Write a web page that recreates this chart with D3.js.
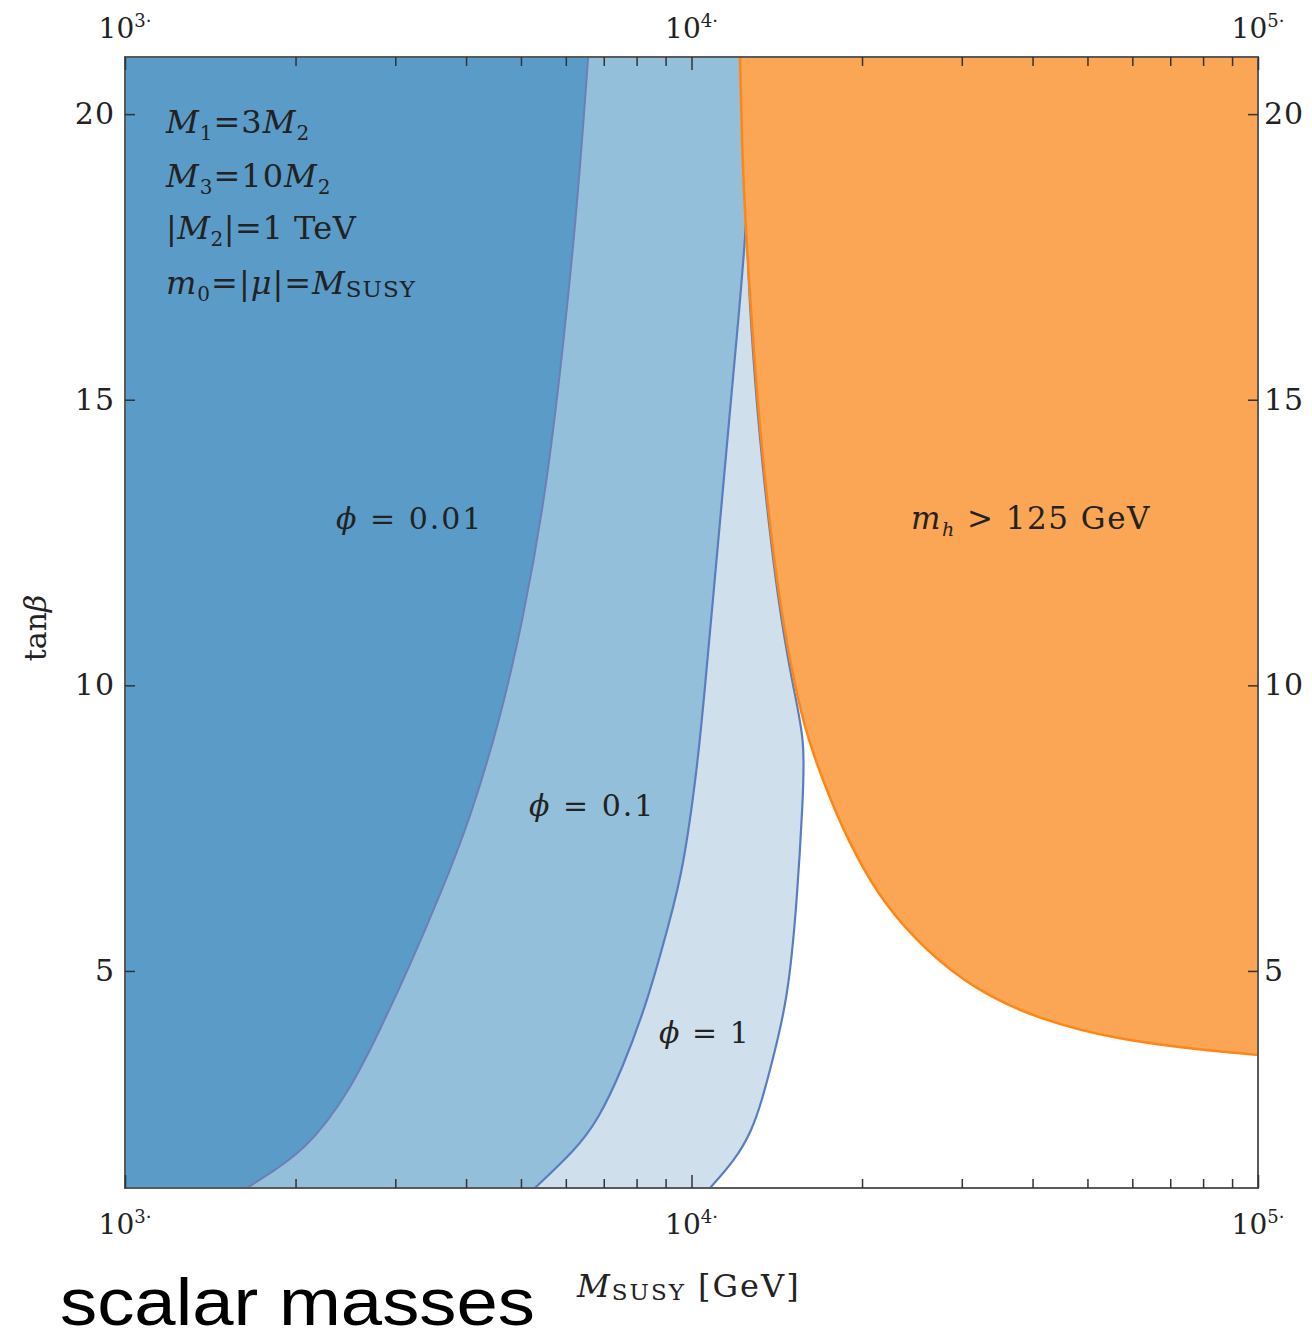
<!DOCTYPE html>
<html>
<head>
<meta charset="utf-8">
<script src="https://cdn.jsdelivr.net/npm/d3@7/dist/d3.min.js"></script>
<style>
  body { margin: 0; background: #fff; }
  svg { display: block; }
  .serif { font-family: "DejaVu Serif", "Liberation Serif", serif; fill: #222; }
</style>
</head>
<body>
<div id="graph"></div>
<script>
'use strict';

// curves: [tanBeta, M_SUSY in GeV]
const phi001 = [[1.2, 1640], [1.86, 2100], [2.92, 2500], [3.97, 2820], [5.1, 3185],
  [6.33, 3600], [7.64, 4060], [9.39, 4590], [11.14, 5040], [13.24, 5510],
  [15.87, 5930], [18.5, 6300], [21, 6570]];

const phi01 = [[1.2, 5290], [1.86, 6230], [2.39, 6840], [3.27, 7540], [4.49, 8380],
  [5.89, 9160], [6.77, 9660], [8.52, 10230], [9.95, 10560], [11.5, 10910],
  [13.25, 11320], [15, 11740], [16.4, 12100], [17.85, 12450], [19.37, 12700], [21, 12900]];

const phi1 = [[1.2, 10780], [1.69, 11940], [2.21, 12790], [2.74, 13320], [3.27, 13760],
  [4.49, 14800], [6.24, 15360], [8, 15730], [9.04, 15860], [9.95, 15110],
  [11.5, 14200], [13.25, 13540], [15, 12990], [17.85, 12450], [19.37, 12600], [21, 12700]];

const higgs125 = [[21, 12180], [19.37, 12280], [17.85, 12480], [15, 13050], [13.25, 13590],
  [11.5, 14270], [9.95, 15230], [9.04, 16060], [8, 17560], [7.03, 19440],
  [6.15, 21960], [5.37, 25840], [4.67, 31650], [4.14, 41220], [3.79, 57080],
  [3.62, 79000], [3.53, 100000]];

const xMajor = [1e3, 1e4, 1e5];
const xExp = ['3', '4', '5'];
const xMinor = [2e3, 3e3, 4e3, 5e3, 6e3, 7e3, 8e3, 9e3, 2e4, 3e4, 4e4, 5e4, 6e4, 7e4, 8e4, 9e4];
const yTicks = [5, 10, 15, 20];

const COLORS = {
  dark: '#5b9bc8',
  mid: '#94bfda',
  light: '#cfe0ec',
  blueEdge: '#5b7dbf',
  darkEdge: '#6c7fb6',
  orange: '#fba654',
  orangeEdge: '#ff8614',
};

const W = 1312, H = 1339;
const PLOT = { left: 125, right: 1258, top: 57, bottom: 1188 };

let svg = d3.select('#graph')
  .append('svg')
  .attr('width', W)
  .attr('height', H);

let x = d3.scaleLog()
  .domain([1e3, 1e5])
  .range([PLOT.left, PLOT.right]);

let y = d3.scaleLinear()
  .domain([1.2, 21])
  .range([PLOT.bottom, PLOT.top]);

let line = d3.line()
  .x(d => x(d[1]))
  .y(d => y(d[0]))
  .curve(d3.curveBasis);

svg.append('clipPath')
  .attr('id', 'plot-clip')
  .append('rect')
  .attr('x', PLOT.left)
  .attr('y', PLOT.top)
  .attr('width', PLOT.right - PLOT.left)
  .attr('height', PLOT.bottom - PLOT.top);

let plot = svg.append('g').attr('clip-path', 'url(#plot-clip)');

// region left of a curve, closed along the left edge
function leftRegion(curve) {
  return line(curve) +
    'L' + x(1e3) + ',' + y(21) +
    'L' + x(1e3) + ',' + y(1.2) + 'Z';
}

plot.append('path').attr('d', leftRegion(phi1)).attr('fill', COLORS.light);
plot.append('path').attr('d', leftRegion(phi01)).attr('fill', COLORS.mid);
plot.append('path').attr('d', leftRegion(phi001)).attr('fill', COLORS.dark);

plot.append('path').attr('d', line(phi1))
  .attr('fill', 'none').attr('stroke', COLORS.blueEdge).attr('stroke-width', 2.2);
plot.append('path').attr('d', line(phi01))
  .attr('fill', 'none').attr('stroke', COLORS.blueEdge).attr('stroke-width', 2.2);
plot.append('path').attr('d', line(phi001))
  .attr('fill', 'none').attr('stroke', COLORS.darkEdge).attr('stroke-width', 2);

plot.append('path')
  .attr('d', line(higgs125) + 'L' + x(1e5) + ',' + y(21) + 'Z')
  .attr('fill', COLORS.orange);
plot.append('path').attr('d', line(higgs125))
  .attr('fill', 'none').attr('stroke', COLORS.orangeEdge).attr('stroke-width', 2.5);

// frame
svg.append('rect')
  .attr('x', PLOT.left)
  .attr('y', PLOT.top)
  .attr('width', PLOT.right - PLOT.left)
  .attr('height', PLOT.bottom - PLOT.top)
  .attr('fill', 'none')
  .attr('stroke', '#5a5a5a')
  .attr('stroke-width', 2);

// ticks, all pointing into the plot
function drawTicks(axis, transform) {
  let g = svg.append('g')
    .attr('transform', transform)
    .call(axis);
  g.select('.domain').remove();
  g.selectAll('line').attr('stroke', '#333').attr('stroke-width', 1.5);
  g.selectAll('text').remove();
}

drawTicks(d3.axisBottom(x).tickValues(xMinor).tickSizeInner(-9).tickSizeOuter(0),
  `translate(0,${PLOT.bottom})`);
drawTicks(d3.axisTop(x).tickValues(xMinor).tickSizeInner(-9).tickSizeOuter(0),
  `translate(0,${PLOT.top})`);
drawTicks(d3.axisBottom(x).tickValues(xMajor).tickSizeInner(-13).tickSizeOuter(0),
  `translate(0,${PLOT.bottom})`);
drawTicks(d3.axisTop(x).tickValues(xMajor).tickSizeInner(-13).tickSizeOuter(0),
  `translate(0,${PLOT.top})`);
drawTicks(d3.axisLeft(y).tickValues(yTicks).tickSizeInner(-10).tickSizeOuter(0),
  `translate(${PLOT.left},0)`);
drawTicks(d3.axisRight(y).tickValues(yTicks).tickSizeInner(-10).tickSizeOuter(0),
  `translate(${PLOT.right},0)`);

// x tick labels "10^n." top and bottom
[38, 1234].forEach(base => {
  let lbl = svg.append('g').selectAll('text')
    .data(xMajor)
    .enter()
    .append('text')
    .attr('class', 'serif')
    .attr('x', d => x(d))
    .attr('y', base)
    .attr('text-anchor', 'middle')
    .style('font-size', '28px');
  lbl.append('tspan').text('10');
  lbl.append('tspan')
    .attr('dy', -11)
    .style('font-size', '18px')
    .text((d, i) => xExp[i] + '·');
});

// y tick labels left and right
svg.append('g').selectAll('text')
  .data(yTicks)
  .enter()
  .append('text')
  .attr('class', 'serif')
  .attr('x', PLOT.left - 10)
  .attr('y', d => y(d) + 10)
  .attr('text-anchor', 'end')
  .style('font-size', '30px')
  .style('letter-spacing', '1px')
  .text(d => d);

svg.append('g').selectAll('text')
  .data(yTicks)
  .enter()
  .append('text')
  .attr('class', 'serif')
  .attr('x', PLOT.right + 6)
  .attr('y', d => y(d) + 10)
  .attr('text-anchor', 'start')
  .style('font-size', '30px')
  .style('letter-spacing', '1px')
  .text(d => d);

// rich text helper: parts = [text, style] where style in '', 'i', 'sub', 'isub', 'sc'
function richText(px, py, size, parts, spacing) {
  let t = svg.append('text')
    .attr('class', 'serif')
    .attr('x', px)
    .attr('y', py)
    .style('font-size', size + 'px')
    .style('letter-spacing', (spacing || 0) + 'px');
  let shifted = 0;
  parts.forEach(p => {
    let s = t.append('tspan').text(p[0]);
    let target = 0;
    if (p[1] === 'i') s.style('font-style', 'italic');
    if (p[1] === 'sub' || p[1] === 'isub') {
      s.style('font-size', Math.round(size * 0.62) + 'px');
      target = size * 0.22;
      if (p[1] === 'isub') s.style('font-style', 'italic');
    }
    if (p[1] === 'sc') {
      s.style('font-size', Math.round(size * 0.72) + 'px');
      target = size * 0.08;
    }
    if (target !== shifted) {
      s.attr('dy', target - shifted);
      shifted = target;
    }
  });
  return t;
}

richText(166, 133, 32, [['M', 'i'], ['1', 'sub'], ['=3', ''], ['M', 'i'], ['2', 'sub']], 1);
richText(166, 187, 32, [['M', 'i'], ['3', 'sub'], ['=10', ''], ['M', 'i'], ['2', 'sub']], 1);
richText(166, 239, 32, [['|', ''], ['M', 'i'], ['2', 'sub'], ['|=1 TeV', '']], 0.5);
richText(166, 294, 32, [['m', 'i'], ['0', 'sub'], ['=|', ''], ['μ', 'i'], ['|=', ''], ['M', 'i'], ['SUSY', 'sc']], 1);

richText(336, 529, 30, [['ϕ', 'i'], [' = 0.01', '']], 2);
richText(529, 816, 30, [['ϕ', 'i'], [' = 0.1', '']], 2);
richText(659, 1043, 30, [['ϕ', 'i'], [' = 1', '']], 1.5);
richText(911, 529, 31, [['m', 'i'], ['h', 'isub'], [' > 125 GeV', '']], 1.5);

// axis titles
richText(577, 1297, 32, [['M', 'i'], ['SUSY', 'sc'], [' [GeV]', '']], 2);

svg.append('text')
  .attr('class', 'serif')
  .attr('transform', 'translate(46,628)rotate(-90)')
  .attr('text-anchor', 'middle')
  .style('font-size', '30px')
  .text('tan')
  .append('tspan')
  .style('font-style', 'italic')
  .text('β');

svg.append('text')
  .attr('x', 60)
  .attr('y', 1325)
  .style('font-family', '"Liberation Sans", Arial, sans-serif')
  .style('font-size', '66px')
  .attr('fill', '#000')
  .attr('textLength', 475)
  .attr('lengthAdjust', 'spacingAndGlyphs')
  .text('scalar masses');
</script>
</body>
</html>
